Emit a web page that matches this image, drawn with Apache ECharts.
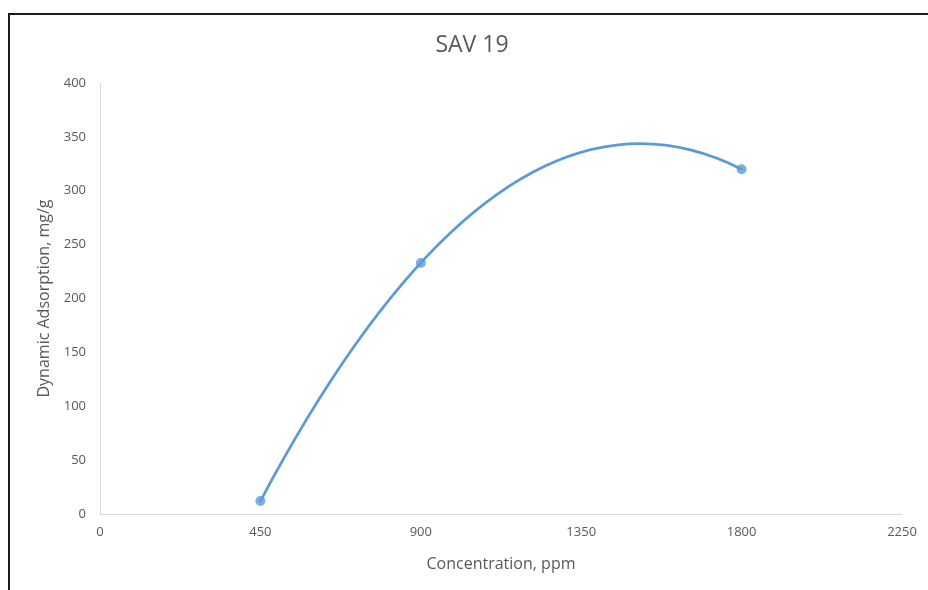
<!DOCTYPE html>
<html>
<head>
<meta charset="utf-8">
<script src="https://cdn.jsdelivr.net/npm/echarts@6/dist/echarts.min.js"></script>
<style>
  html, body { margin: 0; padding: 0; background: #fff; }
  #chart { width: 928px; height: 590px; }
</style>
</head>
<body>
<div id="chart"></div>
<script>
// Measured samples: concentration (ppm) vs dynamic adsorption (mg/g)
const concentration = [450, 900, 1800];
const adsorption = [12, 233, 320];

// Axis ticks
const xTicks = [0, 450, 900, 1350, 1800, 2250];
const yTicks = [0, 50, 100, 150, 200, 250, 300, 350, 400];

const points = concentration.map((c, i) => [c, adsorption[i]]);

// Second-order polynomial trendline fitted through the samples (least squares)
function fitQuadratic(pts) {
  let s = [0, 0, 0, 0, 0], t = [0, 0, 0];
  pts.forEach(([x, y]) => {
    for (let k = 0; k <= 4; k++) s[k] += Math.pow(x, k);
    for (let k = 0; k <= 2; k++) t[k] += y * Math.pow(x, k);
  });
  const A = [[s[0], s[1], s[2]], [s[1], s[2], s[3]], [s[2], s[3], s[4]]];
  const b = t.slice();
  // Gaussian elimination with partial pivoting
  for (let i = 0; i < 3; i++) {
    let p = i;
    for (let r = i + 1; r < 3; r++) if (Math.abs(A[r][i]) > Math.abs(A[p][i])) p = r;
    [A[i], A[p]] = [A[p], A[i]]; [b[i], b[p]] = [b[p], b[i]];
    for (let r = i + 1; r < 3; r++) {
      const f = A[r][i] / A[i][i];
      for (let c = i; c < 3; c++) A[r][c] -= f * A[i][c];
      b[r] -= f * b[i];
    }
  }
  const coef = [0, 0, 0];
  for (let i = 2; i >= 0; i--) {
    let v = b[i];
    for (let c = i + 1; c < 3; c++) v -= A[i][c] * coef[c];
    coef[i] = v / A[i][i];
  }
  return coef; // c0 + c1 x + c2 x^2
}

const coef = fitQuadratic(points);
const xStart = Math.min(...concentration);
const xEnd = Math.max(...concentration);
const poly = x => coef[0] + coef[1] * x + coef[2] * x * x;
const slope = x => coef[1] + 2 * coef[2] * x;
// A parabola segment is exactly a quadratic Bezier; its control point is
// where the end tangents meet.
const xMid = (xStart + xEnd) / 2;
const ctrl = [xMid, poly(xStart) + slope(xStart) * (xMid - xStart)];

const textColor = '#595959';
const axisColor = '#d9d9d9';
const fontFamily = '"Open Sans", sans-serif';
const lineColor = '#5b9bd5';

const chart = echarts.init(document.getElementById('chart'), null, { renderer: 'canvas' });

chart.setOption({
  backgroundColor: '#fff',
  animation: false,
  title: {
    text: 'SAV 19',
    left: 467,
    top: 29,
    textAlign: 'center',
    textStyle: { color: textColor, fontSize: 23, fontWeight: 'normal', fontFamily }
  },
  graphic: [{
    type: 'rect',
    shape: { x: 9, y: 14, width: 960, height: 620 },
    style: { fill: null, stroke: '#1a1a1a', lineWidth: 2 },
    silent: true,
    z: 100
  }],
  grid: { left: 100, right: 26, top: 83, bottom: 76, containLabel: false },
  xAxis: {
    type: 'value',
    min: xTicks[0],
    max: xTicks[xTicks.length - 1],
    interval: xTicks[1] - xTicks[0],
    name: 'Concentration, ppm',
    nameLocation: 'middle',
    nameGap: 42,
    nameTextStyle: { color: textColor, fontSize: 16, fontFamily },
    axisLine: { show: true, lineStyle: { color: axisColor, width: 1 } },
    axisTick: { show: false },
    splitLine: { show: false },
    axisLabel: { color: textColor, fontSize: 13, fontFamily, margin: 12, formatter: v => String(v) }
  },
  yAxis: {
    type: 'value',
    min: yTicks[0],
    max: yTicks[yTicks.length - 1],
    interval: yTicks[1] - yTicks[0],
    name: 'Dynamic Adsorption, mg/g',
    nameLocation: 'middle',
    nameGap: 47,
    nameTextStyle: { color: textColor, fontSize: 16, fontFamily },
    axisLine: { show: true, lineStyle: { color: axisColor, width: 1 } },
    axisTick: { show: false },
    splitLine: { show: false },
    axisLabel: { color: textColor, fontSize: 13, fontFamily, margin: 14, formatter: v => String(v) }
  },
  series: [
    {
      // trendline drawn through the axis scales
      type: 'custom',
      data: [[xStart, poly(xStart)]],
      silent: true,
      renderItem: function (params, api) {
        const p0 = api.coord([xStart, poly(xStart)]);
        const p1 = api.coord([xEnd, poly(xEnd)]);
        const pc = api.coord(ctrl);
        return {
          type: 'bezierCurve',
          shape: { x1: p0[0], y1: p0[1], x2: p1[0], y2: p1[1], cpx1: pc[0], cpy1: pc[1] },
          style: { stroke: lineColor, lineWidth: 2.75, fill: null, lineCap: 'round' }
        };
      },
      z: 2
    },
    {
      type: 'scatter',
      data: points,
      symbol: 'circle',
      symbolSize: 10,
      itemStyle: { color: lineColor },
      z: 3
    }
  ]
});
</script>
</body>
</html>
